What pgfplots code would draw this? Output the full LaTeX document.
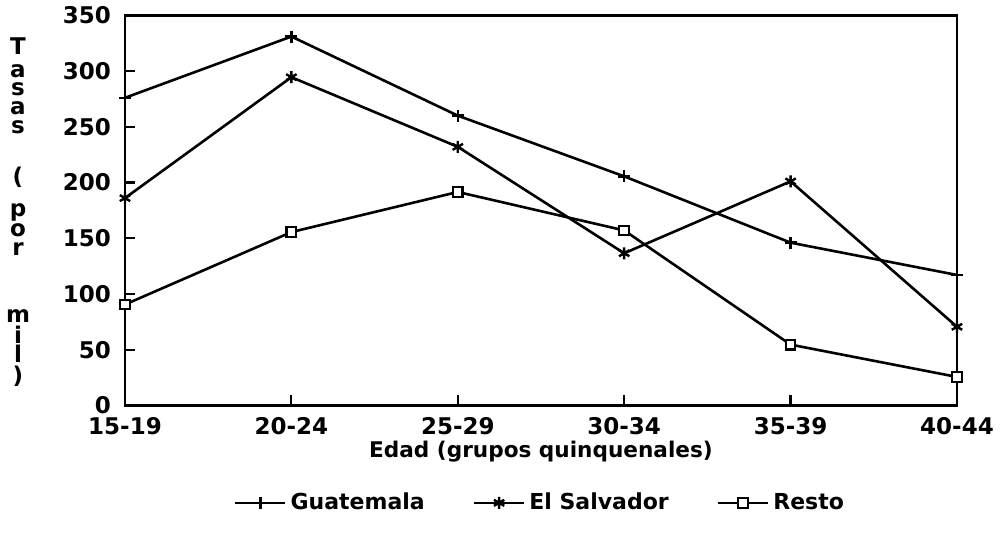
\documentclass[border=0pt]{standalone}
\usepackage{fontspec}
\setmainfont{DejaVu Sans}
\usepackage{pgfplots}
\pgfplotsset{compat=1.18}
\begin{document}
\begin{tikzpicture}
\begin{axis}[
 width=416pt, height=195pt, scale only axis,
 xmin=0, xmax=5, ymin=0, ymax=350,
 xtick={0,1,2,3,4,5},
 xticklabels={15-19,20-24,25-29,30-34,35-39,40-44},
 ytick={0,50,...,350},
 tick align=inside, xtick pos=bottom, ytick pos=left,
 major tick length=5pt,
 axis line style={line width=1.4pt},
 tick style={line width=1.1pt, black},
 ticklabel style={font=\fontsize{11.5}{13}\selectfont\bfseries},
 /pgf/number format/assume math mode=true,
 yticklabel style={xshift=-3.5pt},
 xticklabel style={yshift=-2.5pt},
 xlabel={Edad (grupos quinquenales)},
 xlabel style={font=\fontsize{10.8}{13}\selectfont\bfseries, at={(axis description cs:0.5,-0.118)}, anchor=center},
 legend columns=3,
 legend style={draw=none, at={(0.5,-0.25)}, anchor=center,
   font=\fontsize{11}{13}\selectfont\bfseries,
   /tikz/every even column/.append style={column sep=22pt}},
 legend image code/.code={\draw[mark repeat=2,mark phase=2,#1] plot coordinates {(0pt,0pt)(12.5pt,0pt)(25pt,0pt)};},
 clip=false,
 every axis plot/.append style={line width=1.3pt, black},
]
\addplot[mark=+, mark size=3pt, mark options={solid, line width=1.2pt}] coordinates {
 (0,276) (1,331) (2,260) (3,205.5) (4,146) (5,117)};
\addlegendentry{Guatemala}
\addplot[mark=asterisk, mark size=3pt, mark options={solid, line width=1.2pt}] coordinates {
 (0,186) (1,294.5) (2,232) (3,136.5) (4,201) (5,70.5)};
\addlegendentry{El Salvador}
\addplot[mark=square*, mark size=2.4pt, mark options={solid, fill=white, line width=1.1pt}] coordinates {
 (0,90.5) (1,155.5) (2,191.5) (3,157) (4,54.5) (5,25.5)};
\addlegendentry{Resto}
\coordinate (ax) at (rel axis cs:0,0);
\end{axis}
\begin{scope}[shift={(ax)}, every node/.style={font=\fontsize{11.5}{13}\selectfont\bfseries, anchor=base, inner sep=0pt}]
\node at (-53.5pt,175.5pt) {T};
\node at (-53.5pt,164pt) {a};
\node at (-53.5pt,155pt) {s};
\node at (-53.5pt,145.5pt) {a};
\node at (-53.5pt,136pt) {s};
\node at (-53.5pt,110.5pt) {(};
\node at (-53.5pt,94.5pt) {p};
\node at (-53.5pt,84.5pt) {o};
\node at (-53.5pt,75pt) {r};
\node at (-53.5pt,41.5pt) {m};
\node at (-53.5pt,31pt) {i};
\node at (-53.5pt,21.5pt) {l};
\node at (-53.5pt,11pt) {)};
\end{scope}
\path (ax) ++(-62.5pt,-68.5pt) rectangle ++(500.5pt,271pt);
\end{tikzpicture}
\end{document}
